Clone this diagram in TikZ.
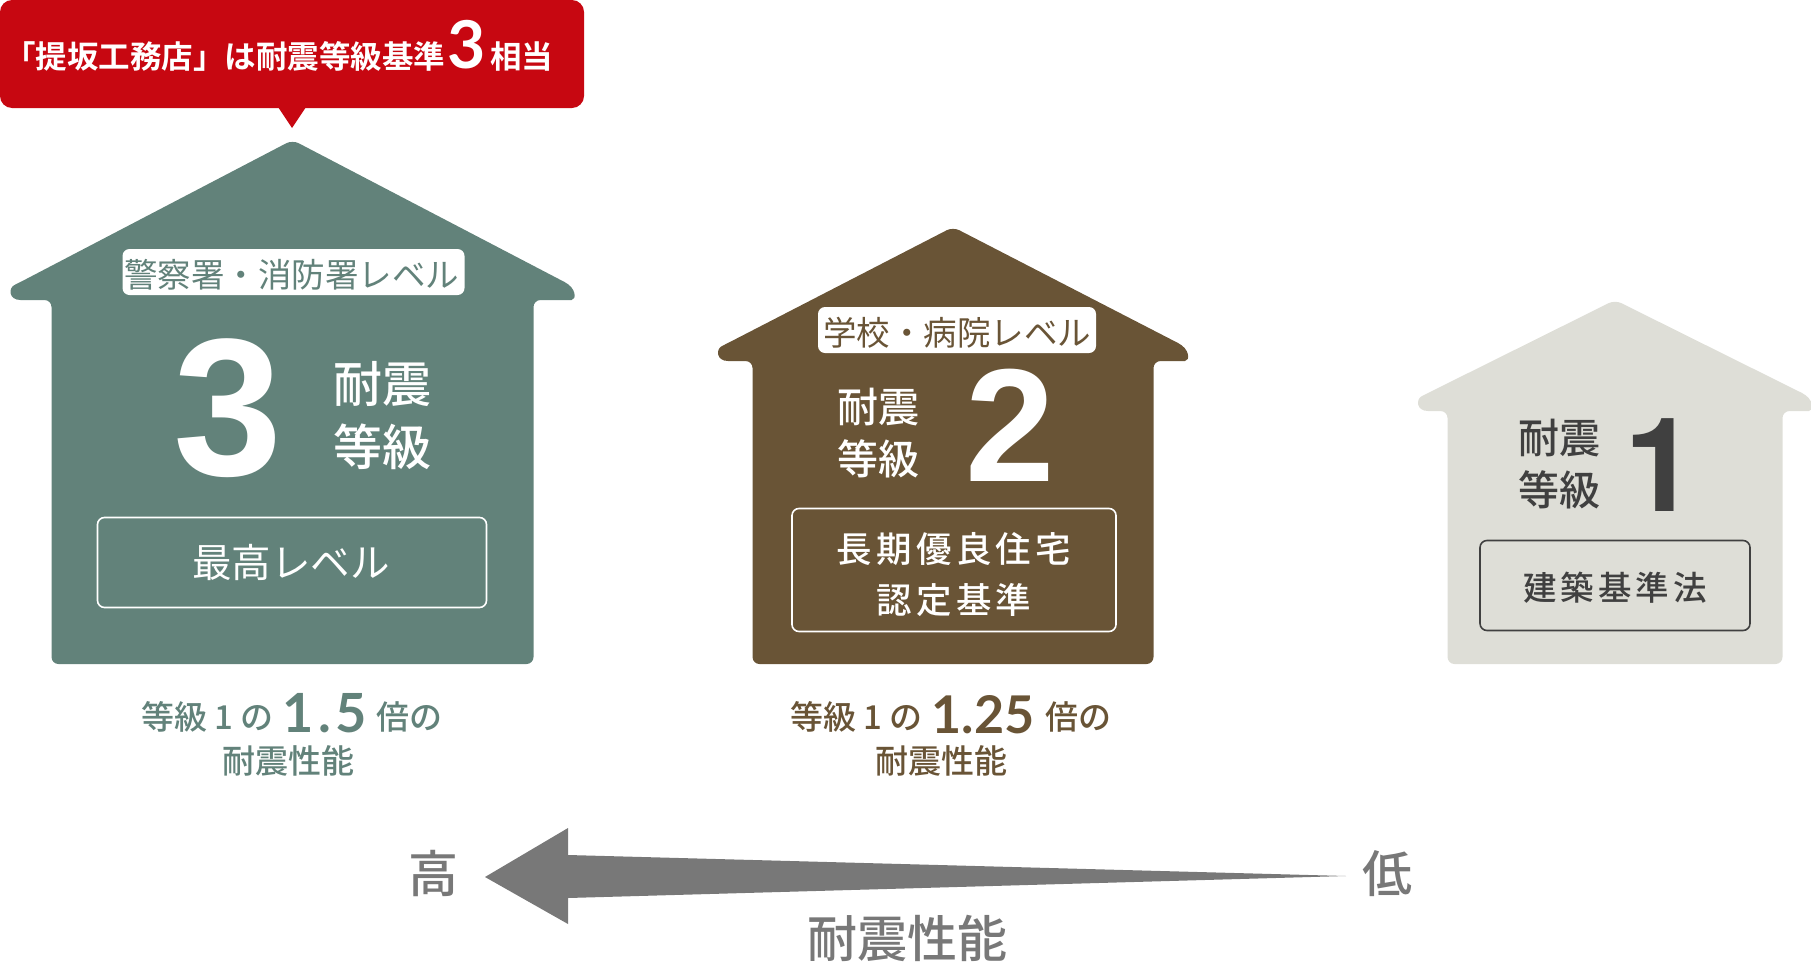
\documentclass[tikz,border=0pt]{standalone}
\usepackage{fontspec}
\usepackage{xcolor}
\setmainfont{Noto Sans CJK JP Medium}
\newfontfamily\plainfont{Noto Sans CJK JP}
\newfontfamily\heavyfont{Noto Sans CJK JP Bold}
\newfontfamily\widefont[LetterSpace=12]{Noto Sans CJK JP Medium}
\newfontfamily\digitfont{Liberation Sans}
\newfontfamily\thindigitfont{TeX Gyre Heros}
\newfontfamily\numfont{Lato}
\usetikzlibrary{positioning}
\definecolor{houseGreen}{HTML}{62827A}
\definecolor{houseBrown}{HTML}{695436}
\definecolor{houseGrey}{HTML}{DEDED7}
\definecolor{inkDark}{HTML}{404040}
\definecolor{calloutRed}{HTML}{C70711}
\definecolor{arrowGrey}{HTML}{787878}
\newcommand{\sz}[1]{\fontsize{#1}{#1}\selectfont}
% apex x, apex y, half eave, half body, eave underside, floor, colour
\newcommand{\drawhouse}[7]{
    \fill[#7, rounded corners=7pt, shift={(#1,#2)}]
        (0,-1) -- ({-#3+9},{#5-18}) [sharp corners]
        .. controls ({-#3-3},{#5-12}) and ({-#3-3},{#5}) .. ({-#3+9},{#5}) [rounded corners=7pt]
        -- (-#4,#5) -- (-#4,#6) -- (#4,#6) -- (#4,#5) -- ({#3-9},{#5}) [sharp corners]
        .. controls ({#3+3},{#5}) and ({#3+3},{#5-12}) .. ({#3-9},{#5-18}) [rounded corners=7pt]
        -- cycle;
}
\begin{document}
\begin{tikzpicture}[x=1pt, y=-1pt,
    level/.style={fill=white, rounded corners=7pt, inner sep=0pt, minimum height=46pt, text height=33pt, text depth=3pt},
    grade/.style={align=center, text=white, font=\sz{49}, inner sep=0pt},
    digit/.style={text=white, inner sep=0pt},
    frame/.style={draw=white, line width=1.6pt, rounded corners=7pt, inner sep=0pt},
    framed/.style={text=white, align=center, inner sep=0pt},
    foot/.style={inner sep=0pt, font=\sz{33}},
    axis/.style={text=arrowGrey, inner sep=0pt}]
    \useasboundingbox (0,0) rectangle (1811,961);

    % Red callout over the first house
    \node [fill=calloutRed, rounded corners=12pt, minimum width=584pt, minimum height=108pt, inner sep=0pt] (callout) at (292,54) {};
    \fill [calloutRed] (278,107) -- (292,128) -- (306,107) -- cycle;
    \node [anchor=west, inner sep=0pt, text=white, font=\heavyfont\sz{31.5}] (calloutText) at (4,46)
        {「提坂工務店」は耐震等級基準\hspace{2pt}{\numfont\bfseries\sz{66}3}\hspace{5pt}相当};

    % House 3
    \drawhouse{292.5}{141}{281}{241}{159}{523}{houseGreen}
    \node [level, minimum width=342pt, text=houseGreen, font=\plainfont\sz{33.5}] (level3) at (293.5,272) {警察署・消防署レベル\kern4pt};
    \node [digit, font=\digitfont\bfseries\sz{196}] (num3) at (228,408) {3};
    \node [grade] (grade3) at (382,416) {耐震\\[14pt]等級};
    \node [frame, minimum width=389pt, minimum height=90pt] (box3) at (292,562.5) {};
    \node [framed, font=\plainfont\sz{39.5}] (box3text) at (291,562) {最高レベル};
    \node [foot, text=houseGreen] (foot3) at (292,716.5)
        {等級\hspace{7pt}1\hspace{7pt}の\hspace{9pt}\smash{\raisebox{-3pt}{\numfont\bfseries\sz{54}1\hspace{5pt}.\hspace{4pt}5}}\hspace{10pt}倍の};
    \node [foot, text=houseGreen, below=13pt of foot3, xshift=-4pt] (perf3) {耐震性能};

    % House 2
    \drawhouse{953}{228}{234}{200.5}{133}{436}{houseBrown}
    \node [level, minimum width=278pt, text=houseBrown, font=\plainfont\sz{33.5}] (level2) at (957,330) {学校・病院レベル};
    \node [digit, font=\digitfont\bfseries\sz{161}] (num2) at (1010,425) {2};
    \node [grade, font=\sz{41}] (grade2) at (878,433) {耐震\\[11pt]等級};
    \node [frame, minimum width=324pt, minimum height=123pt] (box2) at (954,570) {};
    \node [framed, font=\widefont\sz{35.5}] (box2text) at (954,574.5) {長期優良住宅\\[15pt]認定基準};
    \node [foot, text=houseBrown] (foot2) at (951,716.5)
        {等級\hspace{7pt}1\hspace{7pt}の\hspace{9pt}\smash{\raisebox{-4pt}{\numfont\bfseries\sz{52}1.25}}\hspace{11pt}倍の};
    \node [foot, text=houseBrown, below=13pt of foot2, xshift=-10pt] (perf2) {耐震性能};

    % House 1
    \drawhouse{1615}{301}{196}{167.5}{110}{363}{houseGrey}
    \node [digit, text=inkDark, font=\thindigitfont\bfseries\sz{131}] (num1) at (1661,465) {1};
    \node [grade, text=inkDark, font=\sz{41}] (grade1) at (1559,464) {耐震\\[11pt]等級};
    \node [frame, draw=inkDark, minimum width=270pt, minimum height=90pt] (box1) at (1615,585.5) {};
    \node [framed, text=inkDark, font=\widefont\sz{33.5}] (box1text) at (1615,587.5) {建築基準法};

    % Performance arrow
    \node [axis, font=\sz{50}] (high) at (433,873) {高};
    \node [axis, font=\sz{50}] (low) at (1387,874) {低};
    \node [axis, font=\sz{50}] (perf) at (907,938) {耐震性能};
    \fill [arrowGrey] (485,877) -- (568,828) -- (568,855) -- (1346,876) -- (568,898) -- (568,924) -- cycle;
\end{tikzpicture}
\end{document}
